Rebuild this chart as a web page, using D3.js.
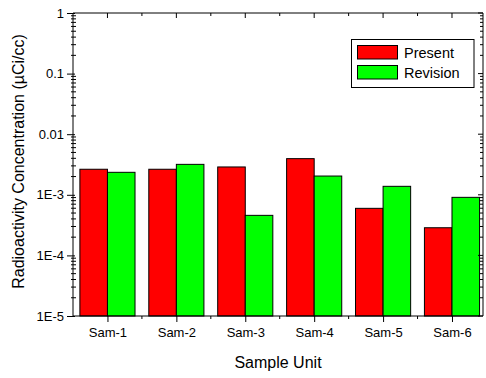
<!DOCTYPE html>
<html><head><meta charset="utf-8">
<script src="https://cdn.jsdelivr.net/npm/d3@7"></script>
<style>
body{margin:0;background:#fff}
svg{display:block;font-family:"Liberation Sans",Arial,sans-serif}
</style></head>
<body><svg id="c" width="486" height="378"></svg>
<script>
const categories = ["Sam-1","Sam-2","Sam-3","Sam-4","Sam-5","Sam-6"];
const seriesNames = ["Present","Revision"];
const present = [2.64e-3, 2.64e-3, 2.88e-3, 3.95e-3, 5.98e-4, 2.86e-4];
const revision = [2.35e-3, 3.18e-3, 4.58e-4, 2.04e-3, 1.38e-3, 9.08e-4];
const yTickValues = [1e-5, 1e-4, 1e-3, 1e-2, 1e-1, 1];
const yTickLabels = ["1E-5","1E-4","1E-3","0.01","0.1","1"];
const colors = ["#ff0000", "#00ff00"];

const svg = d3.select("#c");
const L = 73, R = 483, T = 13, B = 316;
const y = d3.scaleLog().domain([1e-5, 1]).range([B, T]);
const x = d3.scaleLinear().domain([0.5, 6.45]).range([L, R]);
const bw = (x(1) - x(0)) * 0.4;

// minor tick values
const minor = [];
for (let e = -5; e < 0; e++) for (let m = 2; m <= 9; m++) minor.push(m * Math.pow(10, e));

// bars
const series = [present, revision];
series.forEach((vals, s) => {
  svg.append("g").selectAll("rect").data(vals).enter().append("rect")
    .attr("x", (d, i) => x(i + 1) - bw + s * bw)
    .attr("width", bw)
    .attr("y", d => y(d))
    .attr("height", d => y(1e-5) - y(d))
    .attr("fill", colors[s])
    .attr("stroke", "#000")
    .attr("stroke-width", 1);
});

const ink = "#000";
// left axis
const gl = svg.append("g").attr("transform", `translate(${L},0)`);
gl.call(d3.axisLeft(y).tickValues(yTickValues).tickSize(6).tickPadding(3)
  .tickFormat((d, i) => yTickLabels[i]));
gl.selectAll(".tick text").attr("font-size", 13).attr("fill", ink).attr("font-family", "Liberation Sans, Arial, sans-serif");
gl.selectAll(".tick line").attr("x2", -6).attr("x1", 2);
gl.select(".domain").attr("d", `M0,${T}V${B}`);
gl.selectAll("line.mn").data(minor).enter().append("line").attr("class", "mn")
  .attr("x1", -2).attr("x2", 3).attr("y1", d => y(d)).attr("y2", d => y(d)).attr("stroke", ink);

// right axis
const gr = svg.append("g").attr("transform", `translate(${R},0)`);
gr.append("line").attr("y1", T).attr("y2", B).attr("stroke", ink);
gr.selectAll("line.mj").data(yTickValues).enter().append("line").attr("class", "mj")
  .attr("x1", 0).attr("x2", -5).attr("y1", d => y(d)).attr("y2", d => y(d)).attr("stroke", ink);
gr.selectAll("line.mn").data(minor).enter().append("line").attr("class", "mn")
  .attr("x1", 0).attr("x2", -3).attr("y1", d => y(d)).attr("y2", d => y(d)).attr("stroke", ink);

// bottom axis
const idx = categories.map((c, i) => i + 1);
const mids = categories.slice(1).map((c, i) => i + 1.5);
const gb = svg.append("g").attr("transform", `translate(0,${B})`);
gb.call(d3.axisBottom(x).tickValues(idx).tickSize(6).tickPadding(6)
  .tickFormat((d, i) => categories[i]));
gb.select(".domain").attr("d", `M${L},0H${R}`);
gb.selectAll(".tick text").attr("font-size", 13).attr("fill", ink).attr("font-family", "Liberation Sans, Arial, sans-serif");
gb.selectAll("line.mn").data(mids).enter().append("line").attr("class", "mn")
  .attr("x1", d => x(d)).attr("x2", d => x(d)).attr("y1", 0).attr("y2", 3).attr("stroke", ink);

// top axis
const gt = svg.append("g").attr("transform", `translate(0,${T})`);
gt.append("line").attr("x1", L).attr("x2", R).attr("stroke", ink);
gt.selectAll("line.mj").data(idx).enter().append("line")
  .attr("x1", d => x(d)).attr("x2", d => x(d)).attr("y1", 0).attr("y2", 5).attr("stroke", ink);
gt.selectAll("line.mn").data(mids).enter().append("line")
  .attr("x1", d => x(d)).attr("x2", d => x(d)).attr("y1", 0).attr("y2", 3).attr("stroke", ink);

// axis titles
svg.append("text").attr("x", (L + R) / 2).attr("y", 368).attr("text-anchor", "middle")
  .attr("font-size", 16).text("Sample Unit");
svg.append("text").attr("transform", `translate(24,161.5) rotate(-90)`).attr("text-anchor", "middle")
  .attr("font-size", 16).text("Radioactivity Concentration (\u00b5Ci/cc)");

// legend
const lg = svg.append("g");
lg.append("rect").attr("x", 351.5).attr("y", 39.5).attr("width", 122.5).attr("height", 48)
  .attr("fill", "#fff").attr("stroke", ink);
seriesNames.forEach((n, i) => {
  lg.append("rect").attr("x", 357.5).attr("y", 45.5 + i * 20).attr("width", 40).attr("height", 13.5)
    .attr("fill", colors[i]).attr("stroke", ink);
  lg.append("text").attr("x", 404).attr("y", 58 + i * 20).attr("font-size", 14.5).text(n);
});
</script></body></html>
